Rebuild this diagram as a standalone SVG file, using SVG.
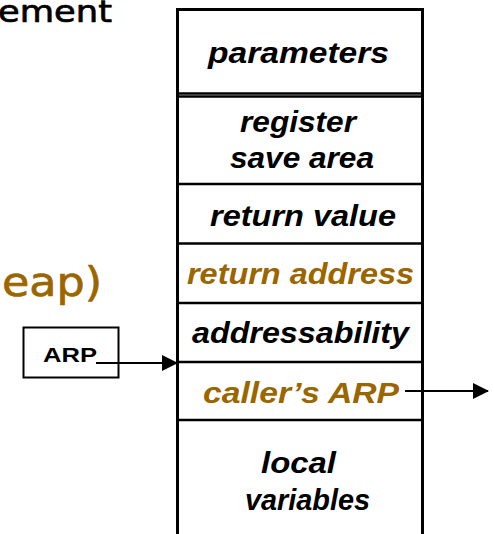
<svg xmlns="http://www.w3.org/2000/svg" width="494" height="534" viewBox="0 0 494 534">
<defs>
<style>
.cell{font-family:"Liberation Sans",Arial,sans-serif;font-weight:bold;font-style:italic;font-size:29px;fill:#000}
.brown{fill:#996600}
.frame{stroke:#000;stroke-width:3;fill:none}
.div{stroke:#000;stroke-width:2.5}
.conn{stroke:#000;stroke-width:2;fill:none}
.hand{font-family:"DejaVu Sans",sans-serif;stroke-width:0.7;stroke-linejoin:round}
</style>
<marker id="ah" markerWidth="16" markerHeight="16" refX="15" refY="8" orient="auto" markerUnits="userSpaceOnUse">
<path d="M0,0 L16,8 L0,16 Z" fill="#000"/>
</marker>
</defs>
<rect width="494" height="534" fill="#fff"/>
<text class="hand" x="-2" y="22" font-size="31" textLength="114" lengthAdjust="spacingAndGlyphs" fill="#000" stroke="#000">ement</text>
<text class="hand" x="2" y="296" font-size="41" textLength="100" lengthAdjust="spacingAndGlyphs" fill="#996600" stroke="#996600">eap)</text>
<g id="stack">
<path class="frame" d="M177.5,534 V9.5 H422.5 V534"/>
<line class="div" x1="177" y1="93.5" x2="423" y2="93.5" stroke-width="1.5"/>
<line class="div" x1="177" y1="96.5" x2="423" y2="96.5" stroke-width="1.5"/>
<line class="div" x1="177" y1="184" x2="423" y2="184"/>
<line class="div" x1="177" y1="243.5" x2="423" y2="243.5"/>
<line class="div" x1="177" y1="303" x2="423" y2="303"/>
<line class="div" x1="177" y1="362" x2="423" y2="362"/>
<line class="div" x1="177" y1="420" x2="423" y2="420"/>
</g>
<g id="parameters"><text class="cell" x="208" y="63" textLength="181" lengthAdjust="spacingAndGlyphs">parameters</text></g>
<g id="register-save-area">
<text class="cell" x="240" y="132" textLength="116" lengthAdjust="spacingAndGlyphs">register</text>
<text class="cell" x="230" y="168" textLength="144" lengthAdjust="spacingAndGlyphs">save area</text>
</g>
<g id="return-value"><text class="cell" x="210" y="226" textLength="186" lengthAdjust="spacingAndGlyphs">return value</text></g>
<g id="return-address"><text class="cell brown" x="187" y="284" textLength="227" lengthAdjust="spacingAndGlyphs">return address</text></g>
<g id="addressability"><text class="cell" x="192" y="343" textLength="217" lengthAdjust="spacingAndGlyphs">addressability</text></g>
<g id="callers-arp"><text class="cell brown" x="203" y="403" textLength="196" lengthAdjust="spacingAndGlyphs">caller’s ARP</text></g>
<g id="local-variables">
<text class="cell" x="261" y="473" textLength="75" lengthAdjust="spacingAndGlyphs">local</text>
<text class="cell" x="245" y="510" textLength="125" lengthAdjust="spacingAndGlyphs">variables</text>
</g>
<g id="arp">
<rect x="23.5" y="327.5" width="95" height="50" fill="#fff" stroke="#000" stroke-width="2"/>
<text x="43" y="362" font-family="'Liberation Sans',Arial,sans-serif" font-weight="bold" font-size="21" textLength="54" lengthAdjust="spacingAndGlyphs">ARP</text>
</g>
<g id="connectors">
<line class="conn" x1="96" y1="363" x2="177" y2="363" marker-end="url(#ah)"/>
<line class="conn" x1="405" y1="391" x2="488" y2="391" marker-end="url(#ah)"/>
</g>
</svg>
